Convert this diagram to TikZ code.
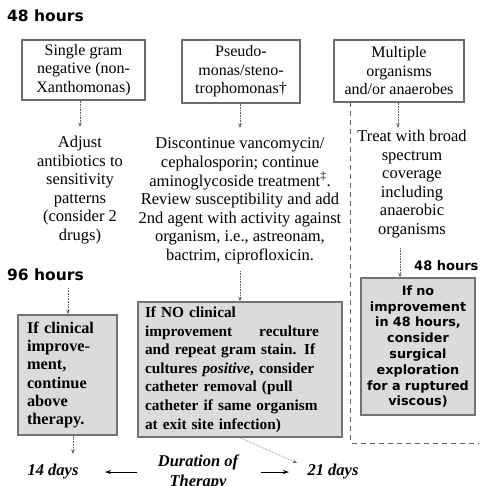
\documentclass[tikz,border=0pt]{standalone}
\usepackage{fontspec}
\setmainfont{Liberation Serif}
\newfontfamily\labfont{DejaVu Sans}
\usetikzlibrary{arrows.meta}
\begin{document}
\begin{tikzpicture}[x=1pt,y=-1pt,
  hdr/.style={font=\labfont\bfseries\fontsize{15.5}{18}\selectfont, inner sep=0, anchor=west},
  obox/.style={draw=gray!85!black, line width=1.3pt, fill=white, align=center, inner sep=0,
    font=\fontsize{16}{18.5}\selectfont},
  gbox/.style={draw=gray!90!black, line width=1.5pt, fill=gray!28, inner sep=0},
  txt/.style={align=center, inner sep=0, font=\fontsize{16.5}{18.6}\selectfont},
  darr/.style={densely dotted, gray!80!black, line width=0.6pt, -{Stealth[length=4.5pt,width=3.5pt]}},
  sarr/.style={line width=0.8pt, -{Stealth[length=6pt,width=4pt]}},
  dline/.style={gray!80!black, line width=1pt, dash pattern=on 5pt off 4pt},
  bot/.style={inner sep=0, font=\bfseries\itshape\fontsize{16.5}{20}\selectfont, align=center}
]
\useasboundingbox (0,0) rectangle (483,486);
\fill[white] (0,0) rectangle (483,486);

% headers
\node[hdr] (h48) at (7,16) {48 hours};
\node[hdr] (h96) at (7,275) {96 hours};
\node[hdr, font=\labfont\bfseries\fontsize{13}{15}\selectfont] (h48b) at (414,266) {48 hours};

% top boxes
\node[obox, minimum width=123, minimum height=60] (b1) at (83.5,70)
  {Single gram\\negative (non-\\Xanthomonas)};
\node[obox, minimum width=118, minimum height=63] (b2) at (241,71.5)
  {Pseudo-\\monas/steno-\\trophomonas†};
\node[obox, minimum width=130, minimum height=62] (b3) at (399,71)
  {Multiple\\organisms\\and/or anaerobes};

% middle texts
\node[txt] (t1) at (80,190)
  {Adjust\\antibiotics to\\sensitivity\\patterns\\(consider 2\\drugs)};
\node[txt] (t2) at (240,201)
  {Discontinue vancomycin/\\cephalosporin; continue\\aminoglycoside treatment\textsuperscript{‡}.\\Review susceptibility and add\\2nd agent with activity against\\organism, i.e., astreonam,\\bactrim, ciprofloxicin.};
\node[txt] (t3) at (412,184)
  {Treat with broad\\spectrum\\coverage\\including\\anaerobic\\organisms};

% gray boxes
\node[gbox, minimum width=99, minimum height=120, text width=81, align=left,
  font=\bfseries\fontsize{16.3}{18.3}\selectfont] (g1) at (67.5,375)
  {If clinical\\improve-\\ment,\\continue\\above\\therapy.};
\node[gbox, minimum width=204, minimum height=135, text width=190, align=left,
  font=\bfseries\fontsize{15.3}{18.6}\selectfont] (g2) at (240,369.5)
  {If NO clinical\\\leavevmode\hbox to 174pt{improvement\hfill reculture}\\and repeat gram stain. If\\cultures \textit{positive}, consider\\catheter removal (pull\\catheter if same organism\\at exit site infection)};
\node[gbox, minimum width=114, minimum height=137, text width=110, align=center,
  font=\labfont\bfseries\fontsize{12.8}{15.8}\selectfont] (g3) at (418,346.5)
  {If no\\improvement\\in 48 hours,\\consider\\surgical\\exploration\\for a ruptured\\viscous)};

% bottom row
\node[bot] (d14) at (53,472) {14 days};
\node[bot] (dur) at (198,472) {Duration of\\Therapy};
\node[bot] (d21) at (333,472) {21 days};

% coordinates for arrow ends
\coordinate (e1) at (80,127);
\coordinate (e2) at (240,128);
\coordinate (e3) at (398,128);
\coordinate (s4) at (400,248);
\coordinate (s5) at (240,271);
\coordinate (s6) at (68,288);
\coordinate (e7) at (73,454);
\coordinate (e8) at (297,463);
\coordinate (la) at (137,472);
\coordinate (lb) at (105,472);
\coordinate (ra) at (261,472);
\coordinate (rb) at (289,472);

% dotted arrows
\draw[darr] (b1.south -| e1) -- (e1);
\draw[darr] (b2.south -| e2) -- (e2);
\draw[darr] (b3.south -| e3) -- (e3);
\draw[darr] (s4) -- (g3.north -| s4);
\draw[darr] (s5) -- (g2.north -| s5);
\draw[darr] (s6) -- (g1.north -| s6);
\draw[darr] (g1.south -| e7) -- (e7);
\draw[darr] (g2.south) -- (e8);

% solid arrows
\draw[sarr] (la) -- (lb);
\draw[sarr] (ra) -- (rb);

% dashed boundary
\coordinate (q1) at (350.5,102);
\coordinate (q2) at (350.5,443);
\coordinate (q3) at (478,443);
\draw[dline] (q1) -- (q2) -- (q3);
\end{tikzpicture}
\end{document}
